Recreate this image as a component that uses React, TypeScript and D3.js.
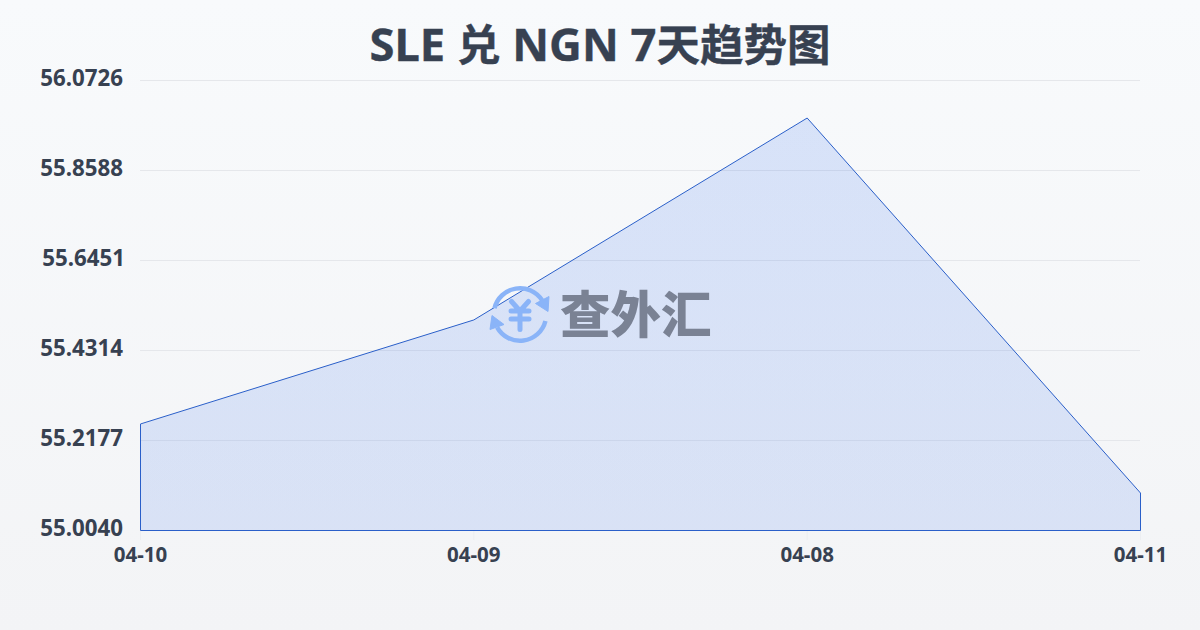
import React from "react";
import * as d3 from "d3";

const categories = ["04-10", "04-09", "04-08", "04-11"];
const seriesValues = [55.257, 55.504, 55.9835, 55.093];
const yTickLabels = ["55.0040", "55.2177", "55.4314", "55.6451", "55.8588", "56.0726"];
const yTickValues = [55.004, 55.2177, 55.4314, 55.6451, 55.8588, 56.0726];
const titleParts = ["SLE ", "兑", " NGN 7", "天趋势图"];
const watermark = "查外汇";

const W = 1200, H = 630;
const FONT = '"Noto Sans", "Noto Sans CJK SC", sans-serif';
const INK = "#374151";

export default function App() {
  const x = d3.scalePoint<string>().domain(categories).range([140.5, 1140.5]);
  const y = d3.scaleLinear().domain([55.004, 56.0726]).range([530.5, 80.5]);
  const pts = categories.map((c, i) => [x(c)!, y(seriesValues[i])] as [number, number]);
  const area = d3.area<[number, number]>().x(d => d[0]).y0(y(55.004)).y1(d => d[1])(pts)!;
  const arc = d3.arc();
  const cx = 520, cy = 314.5;
  const arcTop = arc({ innerRadius: 24, outerRadius: 28.5, startAngle: -1.33, endAngle: 1.0, cornerRadius: 2.2 })!;
  const arcBot = arc({ innerRadius: 24, outerRadius: 28.5, startAngle: 1.82, endAngle: 4.2, cornerRadius: 2.2 })!;
  return (
    <svg width={W} height={H} viewBox={`0 0 ${W} ${H}`} style={{ position: "absolute", left: 0, top: 0, display: "block" }}>
      <defs>
        <linearGradient id="bg" x1="0" y1="0" x2="0" y2="1">
          <stop offset="0" stopColor="#f8fafc" />
          <stop offset="1" stopColor="#f3f4f6" />
        </linearGradient>
        <linearGradient id="fill" x1="0" y1="0" x2="0" y2="1">
          <stop offset="0" stopColor="#2563eb" stopOpacity={0.15} />
          <stop offset="1" stopColor="#2563eb" stopOpacity={0.13} />
        </linearGradient>
      </defs>
      <rect width={W} height={H} fill="url(#bg)" />
      <text x={600} y={61} textAnchor="middle" fontFamily={FONT} fontWeight={700} fontSize={45.3} fill={INK} stroke={INK} strokeWidth={0.4}>
        {titleParts.map((p, i) => (
          <tspan key={i} fontSize={i % 2 === 1 ? 43.5 : 45.3}>{p}</tspan>
        ))}
      </text>
      {yTickValues.map((v, i) => (
        <g key={i}>
          {i > 0 && <line x1={140} x2={1140} y1={y(v)} y2={y(v)} stroke="#e5e7eb" strokeWidth={1} />}
          <text x={yTickLabels[i] === "55.6451" ? 125 : 123} y={y(v) + 5.5} textAnchor="end" fontFamily={FONT} fontWeight={700} fontSize={22.3} fill={INK}>{yTickLabels[i]}</text>
        </g>
      ))}
      {categories.map(c => (
        <g key={c}>
          <line x1={x(c)} x2={x(c)} y1={530} y2={540} stroke="#eceef1" />
          <text x={x(c)} y={561.5} textAnchor="middle" fontFamily={FONT} fontWeight={700} fontSize={20.5} fill={INK}>{c}</text>
        </g>
      ))}
      <path d={area} fill="url(#fill)" />
      <path d={d3.line()([...pts, [1140.5, y(55.004)], [140.5, y(55.004)], pts[0]])!} fill="none" stroke="#2a5fc9" strokeWidth={1} />
      <g transform={`translate(${cx},${cy})`}>
        <g fill="#8ab4f8">
          <path d={arcTop} />
          <path d={arcBot} />
          <path d="M29,-18 L28,-3 L15.5,-11 Z" strokeLinejoin="round" stroke="#8ab4f8" strokeWidth={1} />
          <path d="M-28,1 L-30,15 L-16,10 Z" strokeLinejoin="round" stroke="#8ab4f8" strokeWidth={1} />
        </g>
        <path d="M-8.5,-13 L0,-3.5 L8.5,-13 M-9,-3.5 H9 M-9,4.5 H9 M0,-3.5 V15" fill="none" stroke="#8ab4f8" strokeWidth={5} strokeLinecap="round" strokeLinejoin="round" />
      </g>
      <text x={560} y={333} fontFamily='"Noto Sans CJK SC", sans-serif' fontWeight={900} fontSize={50.5} fill="#7a8294">{watermark}</text>
    </svg>
  );
}
